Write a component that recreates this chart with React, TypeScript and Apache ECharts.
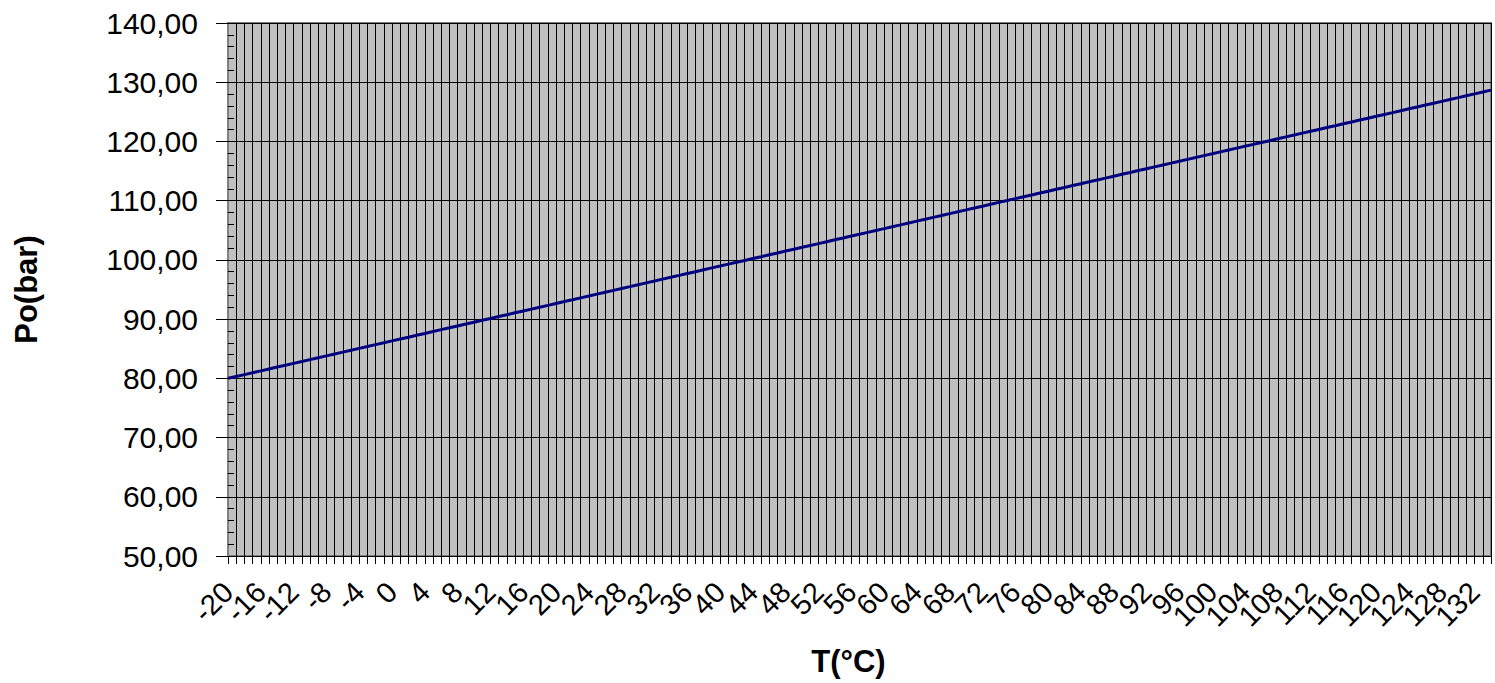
import React, { useEffect, useRef } from "react";
import * as echarts from "echarts";

const temperatures: string[] = [
  "-20","-19","-18","-17","-16","-15","-14","-13","-12","-11","-10","-9","-8","-7","-6","-5","-4","-3","-2","-1",
  "0","1","2","3","4","5","6","7","8","9","10","11","12","13","14","15","16","17","18","19",
  "20","21","22","23","24","25","26","27","28","29","30","31","32","33","34","35","36","37","38","39",
  "40","41","42","43","44","45","46","47","48","49","50","51","52","53","54","55","56","57","58","59",
  "60","61","62","63","64","65","66","67","68","69","70","71","72","73","74","75","76","77","78","79",
  "80","81","82","83","84","85","86","87","88","89","90","91","92","93","94","95","96","97","98","99",
  "100","101","102","103","104","105","106","107","108","109","110","111","112","113","114","115","116","117","118","119",
  "120","121","122","123","124","125","126","127","128","129","130","131","132","133","134",
];

const pressures: number[] = [
  80.0, 80.32, 80.63, 80.95, 81.26, 81.58, 81.9, 82.21, 82.53, 82.84,
  83.16, 83.48, 83.79, 84.11, 84.42, 84.74, 85.06, 85.37, 85.69, 86.0,
  86.32, 86.64, 86.95, 87.27, 87.58, 87.9, 88.22, 88.53, 88.85, 89.16,
  89.48, 89.8, 90.11, 90.43, 90.74, 91.06, 91.38, 91.69, 92.01, 92.32,
  92.64, 92.96, 93.27, 93.59, 93.9, 94.22, 94.54, 94.85, 95.17, 95.48,
  95.8, 96.12, 96.43, 96.75, 97.07, 97.38, 97.7, 98.01, 98.33, 98.65,
  98.96, 99.28, 99.59, 99.91, 100.23, 100.54, 100.86, 101.17, 101.49, 101.81,
  102.12, 102.44, 102.75, 103.07, 103.39, 103.7, 104.02, 104.33, 104.65, 104.97,
  105.28, 105.6, 105.91, 106.23, 106.55, 106.86, 107.18, 107.49, 107.81, 108.13,
  108.44, 108.76, 109.07, 109.39, 109.71, 110.02, 110.34, 110.65, 110.97, 111.29,
  111.6, 111.92, 112.23, 112.55, 112.87, 113.18, 113.5, 113.81, 114.13, 114.45,
  114.76, 115.08, 115.39, 115.71, 116.03, 116.34, 116.66, 116.97, 117.29, 117.61,
  117.92, 118.24, 118.55, 118.87, 119.19, 119.5, 119.82, 120.13, 120.45, 120.77,
  121.08, 121.4, 121.71, 122.03, 122.35, 122.66, 122.98, 123.29, 123.61, 123.93,
  124.24, 124.56, 124.87, 125.19, 125.51, 125.82, 126.14, 126.45, 126.77, 127.09,
  127.4, 127.72, 128.03, 128.35, 128.67,
];

const labelEvery = 4;
const yMin = 50;
const yMax = 140;
const yStep = 10;
const yMinorStep = 2;

const FONT = "'Liberation Sans', Arial, Helvetica, sans-serif";

export default function App() {
  const ref = useRef<HTMLDivElement>(null);

  useEffect(() => {
    if (!ref.current) return;
    const chart = echarts.init(ref.current, undefined, { renderer: "svg" });
    chart.setOption({
      animation: false,
      backgroundColor: "#ffffff",
      textStyle: { fontFamily: FONT },
      grid: {
        left: 228,
        right: 4,
        top: 23,
        bottom: 127,
        show: true,
        backgroundColor: "#c0c0c0",
        borderColor: "#808080",
        borderWidth: 2,
        outerBoundsMode: "none",
        containLabel: false,
      },
      xAxis: {
        type: "category",
        data: temperatures,
        boundaryGap: false,
        name: "T(°C)",
        nameLocation: "middle",
        nameGap: 90,
        nameTextStyle: {
          fontFamily: FONT,
          fontSize: 31,
          fontWeight: "bold",
          color: "#000",
          padding: [0, 22, 0, 0],
        },
        axisLine: { show: true, lineStyle: { color: "#000", width: 1 } },
        axisTick: {
          show: true,
          interval: 0,
          length: 8,
          lineStyle: { color: "#000", width: 1 },
        },
        axisLabel: {
          interval: 0,
          rotate: 45,
          fontSize: 29,
          fontFamily: FONT,
          color: "#000",
          margin: 31,
          showMinLabel: true,
          showMaxLabel: false,
          hideOverlap: false,
          formatter: (v: string, i: number) => (i % labelEvery === 0 ? v : ""),
        },
        splitLine: {
          show: true,
          interval: 0,
          lineStyle: { color: "#000", width: 1 },
        },
      },
      yAxis: [
        {
          type: "value",
          min: yMin,
          max: yMax,
          interval: yStep,
          name: "Po(bar)",
          nameLocation: "middle",
          nameRotate: 90,
          nameGap: 186,
          nameTextStyle: {
            fontFamily: FONT,
            fontSize: 31,
            fontWeight: "bold",
            color: "#000",
          },
          axisLine: { show: true, lineStyle: { color: "#808080", width: 2 } },
          axisTick: { show: true, length: 12, lineStyle: { color: "#000", width: 1 } },
          axisLabel: {
            fontSize: 30,
            fontFamily: FONT,
            color: "#000",
            margin: 30,
            formatter: (v: number) => v.toFixed(2).replace(".", ","),
          },
          splitLine: { show: true, lineStyle: { color: "#000", width: 1 } },
        },
        {
          type: "value",
          min: yMin,
          max: yMax,
          interval: yMinorStep,
          position: "left",
          axisLine: { show: false },
          axisTick: { show: true, inside: true, length: 6, lineStyle: { color: "#000", width: 1 } },
          axisLabel: { show: false },
          splitLine: { show: false },
        },
      ],
      series: [
        {
          type: "line",
          data: pressures,
          yAxisIndex: 0,
          showSymbol: false,
          symbol: "none",
          lineStyle: { color: "#000080", width: 3 },
        },
      ],
    });
    return () => chart.dispose();
  }, []);

  return (
    <div
      ref={ref}
      style={{ position: "fixed", left: 0, top: 0, width: 1495, height: 683 }}
    />
  );
}
